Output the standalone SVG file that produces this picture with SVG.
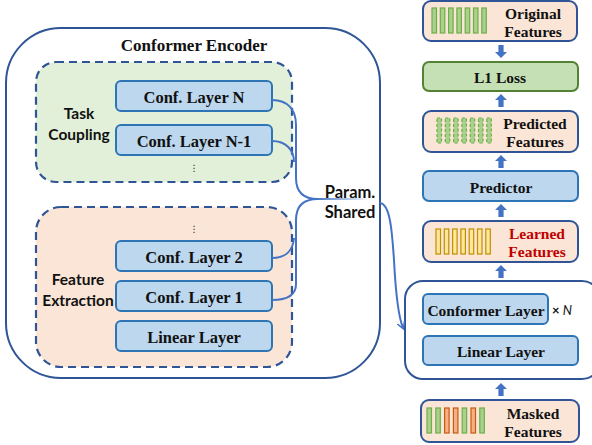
<svg xmlns="http://www.w3.org/2000/svg" width="592" height="445" viewBox="0 0 592 445">
<defs>
<style>
.serif{font-family:"Liberation Serif","Times New Roman",serif;font-weight:bold;font-size:16.5px;fill:#111;text-anchor:middle;dominant-baseline:central}
.sm{font-size:15.5px}
.sans{font-family:Lato,"Liberation Sans",sans-serif;font-weight:bold;font-size:15.5px;fill:#111;text-anchor:middle;dominant-baseline:central}
.dots{font-family:"DejaVu Sans",sans-serif;font-size:9px;fill:#111;text-anchor:middle;dominant-baseline:central}
.layer{fill:#BDD7EE;stroke:#2E75B6;stroke-width:2}
.outer{fill:#fff;stroke:#2F5597;stroke-width:2}
.dash{stroke:#2F5597;stroke-width:2.2;stroke-dasharray:8 5}
.feat{fill:#FBE5D6;stroke:#2F5597;stroke-width:2}
.gbar{fill:#A9D18E;stroke:#70AD47;stroke-width:1.2}
.gdbar{fill:#A9D18E;stroke:#70AD47;stroke-width:1.2;stroke-dasharray:3 2}
.obar{fill:#F4B183;stroke:#C55A11;stroke-width:1.2}
.ybar{fill:#FFE699;stroke:#BF9000;stroke-width:1.2}
.curve{fill:none;stroke:#4472C4;stroke-width:2}
.barrow{fill:#4472C4}
.red{fill:#C00000}
</style>
<linearGradient id="fade" x1="0" y1="0" x2="1" y2="0">
<stop offset="0" stop-color="#4472C4"/>
<stop offset="1" stop-color="#4472C4" stop-opacity="0"/>
</linearGradient>
<marker id="ah" markerWidth="8" markerHeight="8" refX="6" refY="4" orient="auto" markerUnits="userSpaceOnUse">
<path d="M0,0 L7,4 L0,8" fill="none" stroke="#4472C4" stroke-width="1.5"/>
</marker>
<path id="upa" d="M-2.6,13 V6 H-6 L0,0 L6,6 H2.6 V13 Z"/>
</defs>

<g id="conformer-encoder">
<rect x="6" y="28" width="374" height="350" rx="55" class="outer"/>
<text x="194" y="45" class="serif" style="font-size:17px">Conformer Encoder</text>
</g>

<g id="task-coupling">
<rect x="36" y="62" width="256" height="120" rx="20" fill="#E2F0D9" class="dash"/>
<text x="79" y="113" class="sans">Task</text>
<text x="79" y="134" class="sans">Coupling</text>
<text x="194" y="168" class="dots">⋮</text>
</g>
<g id="conf-layer-n">
<rect x="116" y="81" width="156" height="30" rx="5" class="layer"/>
<text x="194" y="97" class="serif">Conf. Layer N</text>
</g>
<g id="conf-layer-n-1">
<rect x="116" y="125" width="156" height="30" rx="5" class="layer"/>
<text x="194" y="141" class="serif">Conf. Layer N-1</text>
</g>

<g id="feature-extraction">
<rect x="36" y="207" width="256" height="160" rx="25" fill="#FBE5D6" class="dash"/>
<text x="78" y="279" class="sans">Feature</text>
<text x="78" y="300" class="sans">Extraction</text>
<text x="194" y="229" class="dots">⋮</text>
</g>
<g id="conf-layer-2">
<rect x="116" y="241" width="156" height="30" rx="5" class="layer"/>
<text x="194" y="257" class="serif">Conf. Layer 2</text>
</g>
<g id="conf-layer-1">
<rect x="116" y="281" width="156" height="30" rx="5" class="layer"/>
<text x="194" y="297" class="serif">Conf. Layer 1</text>
</g>
<g id="linear-layer-left">
<rect x="116" y="321" width="156" height="30" rx="5" class="layer"/>
<text x="194" y="337" class="serif">Linear Layer</text>
</g>

<g id="param-shared">
<text x="350" y="192" class="sans" style="font-size:16.5px">Param.</text>
<text x="350" y="212" class="sans" style="font-size:16.5px">Shared</text>
</g>

<g id="original-features">
<rect x="423" y="1" width="154" height="40" rx="8" class="feat"/>
<g class="gbar">
<rect x="432" y="8" width="4.5" height="25"/><rect x="440.3" y="8" width="4.5" height="25"/><rect x="448.6" y="8" width="4.5" height="25"/><rect x="456.9" y="8" width="4.5" height="25"/><rect x="465.2" y="8" width="4.5" height="25"/><rect x="473.5" y="8" width="4.5" height="25"/><rect x="481.8" y="8" width="4.5" height="25"/>
</g>
<text x="533" y="13" class="serif sm">Original</text>
<text x="533" y="31" class="serif sm">Features</text>
</g>

<g id="l1-loss">
<rect x="423" y="62" width="155" height="29" rx="6" fill="#C5E0B4" stroke="#548235" stroke-width="2"/>
<text x="500" y="77" class="serif sm">L1 Loss</text>
</g>

<g id="predicted-features">
<rect x="423" y="111" width="155" height="41" rx="8" class="feat"/>
<g class="gdbar">
<rect x="437" y="118" width="4.5" height="25"/><rect x="445.3" y="118" width="4.5" height="25"/><rect x="453.6" y="118" width="4.5" height="25"/><rect x="461.9" y="118" width="4.5" height="25"/><rect x="470.2" y="118" width="4.5" height="25"/><rect x="478.5" y="118" width="4.5" height="25"/><rect x="486.8" y="118" width="4.5" height="25"/>
</g>
<text x="535" y="123" class="serif sm">Predicted</text>
<text x="535" y="141" class="serif sm">Features</text>
</g>

<g id="predictor">
<rect x="423" y="171" width="155" height="30" rx="6" class="layer"/>
<text x="501" y="187" class="serif sm">Predictor</text>
</g>

<g id="learned-features">
<rect x="423" y="221" width="155" height="41" rx="8" class="feat"/>
<g class="ybar">
<rect x="436" y="229" width="4.5" height="25"/><rect x="444.3" y="229" width="4.5" height="25"/><rect x="452.6" y="229" width="4.5" height="25"/><rect x="460.9" y="229" width="4.5" height="25"/><rect x="469.2" y="229" width="4.5" height="25"/><rect x="477.5" y="229" width="4.5" height="25"/><rect x="485.8" y="229" width="4.5" height="25"/>
</g>
<text x="537" y="233" class="serif sm red">Learned</text>
<text x="537" y="251" class="serif sm red">Features</text>
</g>

<g id="predictor-encoder">
<rect x="405" y="281" width="195" height="98" rx="18" class="outer"/>
<text x="562" y="310" class="sans" style="font-size:13px">× <tspan font-style="italic" font-weight="normal">N</tspan></text>
</g>
<g id="conformer-layer">
<rect x="423" y="294" width="125" height="30" rx="5" class="layer"/>
<text x="486" y="310" class="serif sm">Conformer Layer</text>
</g>
<g id="linear-layer-right">
<rect x="423" y="336" width="155" height="29" rx="5" class="layer"/>
<text x="501" y="351" class="serif sm">Linear Layer</text>
</g>

<g id="masked-features">
<rect x="421" y="400" width="158" height="42" rx="8" class="feat"/>
<rect x="427" y="408" width="4.5" height="25" class="gbar"/>
<rect x="435.8" y="408" width="4.5" height="25" class="gbar"/>
<rect x="444.6" y="408" width="4.5" height="25" class="obar"/>
<rect x="453.4" y="408" width="4.5" height="25" class="obar"/>
<rect x="462.2" y="408" width="4.5" height="25" class="gbar"/>
<rect x="471" y="408" width="4.5" height="25" class="obar"/>
<rect x="479.8" y="408" width="4.5" height="25" class="gbar"/>
<text x="533" y="413" class="serif sm">Masked</text>
<text x="533" y="431" class="serif sm">Features</text>
</g>

<g id="connectors">
<path class="curve" d="M272,100 C288,100 296,110 296,125 V178 C296,192 304,199 318,199"/>
<path class="curve" d="M272,141 C286,141 294,150 294,162"/>
<path class="curve" d="M318,199 C304,199 296,206 296,220 V284 C296,296 286,300 272,300"/>
<path class="curve" d="M272,258 C286,258 293,250 294,238"/>
<rect x="316" y="198" width="54" height="2" fill="url(#fade)"/>
<path class="curve" d="M380,203 C390,204 392,230 394,260 C396,300 399,318 403,328" marker-end="url(#ah)" stroke-width="1.6"/>
<g class="barrow">
<use href="#upa" transform="translate(501,58) scale(1,-1)"/>
<use href="#upa" transform="translate(501,94)"/>
<use href="#upa" transform="translate(501,155)"/>
<use href="#upa" transform="translate(501,204)"/>
<use href="#upa" transform="translate(501,265)"/>
<use href="#upa" transform="translate(501,383)"/>
</g>
</g>
</svg>
